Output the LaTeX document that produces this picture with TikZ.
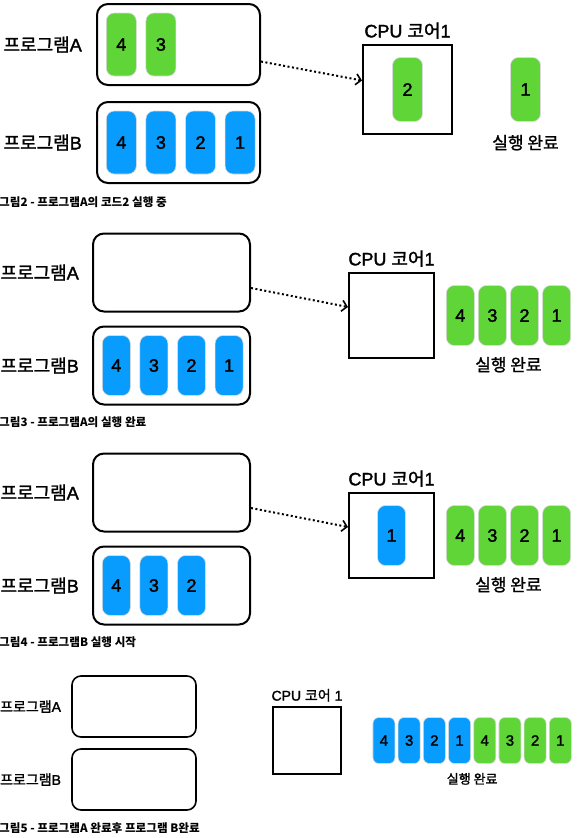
\documentclass[tikz,border=0pt]{standalone}
\usepackage{fontspec}
\setmainfont{Liberation Sans}[FakeBold=1.8]
\newfontfamily\kr{Noto Sans CJK KR}[FakeBold=1.4]
\newfontfamily\krcap{Noto Sans CJK KR}
\usetikzlibrary{positioning, calc, arrows.meta}
\definecolor{taskgreen}{HTML}{5FD538}
\definecolor{taskblue}{HTML}{089CFE}

\begin{document}
\begin{tikzpicture}[x=1pt, y=-1pt, node distance=9pt,
    prog/.style={draw, line width=2pt, rounded corners=11pt, minimum width=163pt, minimum height=81pt},
    core/.style={draw, line width=2pt, minimum size=89pt},
    task/.style={draw=black!15, line width=0.6pt, rounded corners=8pt, inner sep=0pt, minimum width=30pt, minimum height=63pt, font=\fontsize{18}{20}\selectfont},
    gtask/.style={task, fill=taskgreen},
    btask/.style={task, fill=taskblue},
    progname/.style={inner sep=0pt, font=\fontsize{18}{20}\selectfont},
    donename/.style={inner sep=0pt, font=\kr\fontsize{17}{19}\selectfont},
    caption/.style={inner sep=0pt, anchor=west, font=\krcap\bfseries\fontsize{11.6}{13}\selectfont},
    flow/.style={line width=2pt, dash pattern=on 2pt off 2.5pt, -{Straight Barb[length=5pt, width=11pt, line width=1.6pt]}}]
    \useasboundingbox (0,0) rectangle (577,838);

    \node[prog] (proga1) at (178.5,44.5) {};
    \node[gtask, right=10pt of proga1.west] (a1t4) {4};
    \node[gtask, right=of a1t4] (a1t3) {3};
    \node[progname, left=14pt of proga1] (namea1) {{\kr 프로그램}A};

    \node[prog] (progb1) at (178.5,142.5) {};
    \node[btask, right=10pt of progb1.west] (b1t4) {4};
    \node[btask, right=of b1t4] (b1t3) {3};
    \node[btask, right=of b1t3] (b1t2) {2};
    \node[btask, right=of b1t2] (b1t1) {1};
    \node[progname, left=14pt of progb1] (nameb1) {{\kr 프로그램}B};

    \node[core] (core1) at (407.5,89.5) {};
    \node[progname, above=5pt of core1] (corename1) {CPU {\kr 코어}1};
    \node[gtask, minimum height=64pt] (c1t2) at (core1) {2};
    \node[gtask, minimum height=64pt] (d1t1) at (525.5,89.5) {1};
    \node[donename, below=13pt of d1t1] (donename1) {실행 완료};

    \draw[flow] ([yshift=-17pt]proga1.east) -- ([yshift=9pt]core1.west);
    \node[caption] (cap1) at (-1,202) {그림2 - 프로그램A의 코드2 실행 중};

    \begin{scope}[prog/.append style={minimum width=157pt, minimum height=78pt},
        core/.append style={minimum size=85pt},
        task/.append style={minimum width=28pt, minimum height=60pt}]
    \node[prog] (proga2) at (171.5,272.5) {};
    \node[progname, left=13pt of proga2] (namea2) {{\kr 프로그램}A};

    \node[prog] (progb2) at (171.5,365.5) {};
    \node[btask, right=10pt of progb2.west] (b2t4) {4};
    \node[btask, right=of b2t4] (b2t3) {3};
    \node[btask, right=of b2t3] (b2t2) {2};
    \node[btask, right=of b2t2] (b2t1) {1};
    \node[progname, left=13pt of progb2] (nameb2) {{\kr 프로그램}B};

    \node[core] (core2) at (391.5,315.5) {};
    \node[progname, above=5pt of core2] (corename2) {CPU {\kr 코어}1};
    \node[gtask, right=11pt of core2] (d2t4) {4};
    \node[gtask, right=3.5pt of d2t4] (d2t3) {3};
    \node[gtask, right=3.5pt of d2t3] (d2t2) {2};
    \node[gtask, right=3.5pt of d2t2] (d2t1) {1};
    \node[donename, anchor=north, yshift=-11pt] (donename2) at ($(d2t4.south)!0.5!(d2t1.south)$) {실행 완료};

    \draw[flow] ([yshift=-15.5pt]proga2.east) -- ([yshift=8.5pt]core2.west);
    \node[caption] (cap2) at (-1,422) {그림3 - 프로그램A의 실행 완료};

    \node[prog] (proga3) at (171.5,492.5) {};
    \node[progname, left=13pt of proga3] (namea3) {{\kr 프로그램}A};

    \node[prog] (progb3) at (171.5,585.5) {};
    \node[btask, right=10pt of progb3.west] (b3t4) {4};
    \node[btask, right=of b3t4] (b3t3) {3};
    \node[btask, right=of b3t3] (b3t2) {2};
    \node[progname, left=13pt of progb3] (nameb3) {{\kr 프로그램}B};

    \node[core] (core3) at (391.5,535.5) {};
    \node[progname, above=5pt of core3] (corename3) {CPU {\kr 코어}1};
    \node[btask] (c3t1) at (core3) {1};
    \node[gtask, right=11pt of core3] (d3t4) {4};
    \node[gtask, right=3.5pt of d3t4] (d3t3) {3};
    \node[gtask, right=3.5pt of d3t3] (d3t2) {2};
    \node[gtask, right=3.5pt of d3t2] (d3t1) {1};
    \node[donename, anchor=north, yshift=-11pt] (donename3) at ($(d3t4.south)!0.5!(d3t1.south)$) {실행 완료};

    \draw[flow] ([yshift=-15.5pt]proga3.east) -- ([yshift=8.5pt]core3.west);
    \node[caption] (cap3) at (-1,642) {그림4 - 프로그램B 실행 시작};
    \end{scope}

    \begin{scope}[prog/.append style={minimum width=124pt, minimum height=61pt, line width=1.6pt, rounded corners=9pt},
        core/.append style={minimum size=67.5pt, line width=1.8pt},
        task/.append style={minimum width=22pt, minimum height=46pt, rounded corners=6pt, font=\fontsize{15}{17}\selectfont},
        progname/.append style={font=\fontsize{14}{16}\selectfont},
        donename/.append style={font=\kr\fontsize{13}{15}\selectfont}]
    \node[prog] (proga4) at (134,706.5) {};
    \node[progname, left=10pt of proga4] (namea4) {{\kr 프로그램}A};

    \node[prog] (progb4) at (134,779.5) {};
    \node[progname, left=10pt of progb4] (nameb4) {{\kr 프로그램}B};

    \node[core] (core4) at (307,740.5) {};
    \node[progname, above=4pt of core4] (corename4) {CPU {\kr 코어} 1};
    \node[btask, right=31pt of core4] (d4b4) {4};
    \node[btask, right=2.6pt of d4b4] (d4b3) {3};
    \node[btask, right=2.6pt of d4b3] (d4b2) {2};
    \node[btask, right=2.6pt of d4b2] (d4b1) {1};
    \node[gtask, right=2.6pt of d4b1] (d4a4) {4};
    \node[gtask, right=2.6pt of d4a4] (d4a3) {3};
    \node[gtask, right=2.6pt of d4a3] (d4a2) {2};
    \node[gtask, right=2.6pt of d4a2] (d4a1) {1};
    \node[donename, anchor=north, yshift=-9pt] (donename4) at ($(d4b4.south)!0.5!(d4a1.south)$) {실행 완료};

    \node[caption] (cap4) at (-1,828) {그림5 - 프로그램A 완료후 프로그램 B완료};
    \end{scope}
\end{tikzpicture}
\end{document}
